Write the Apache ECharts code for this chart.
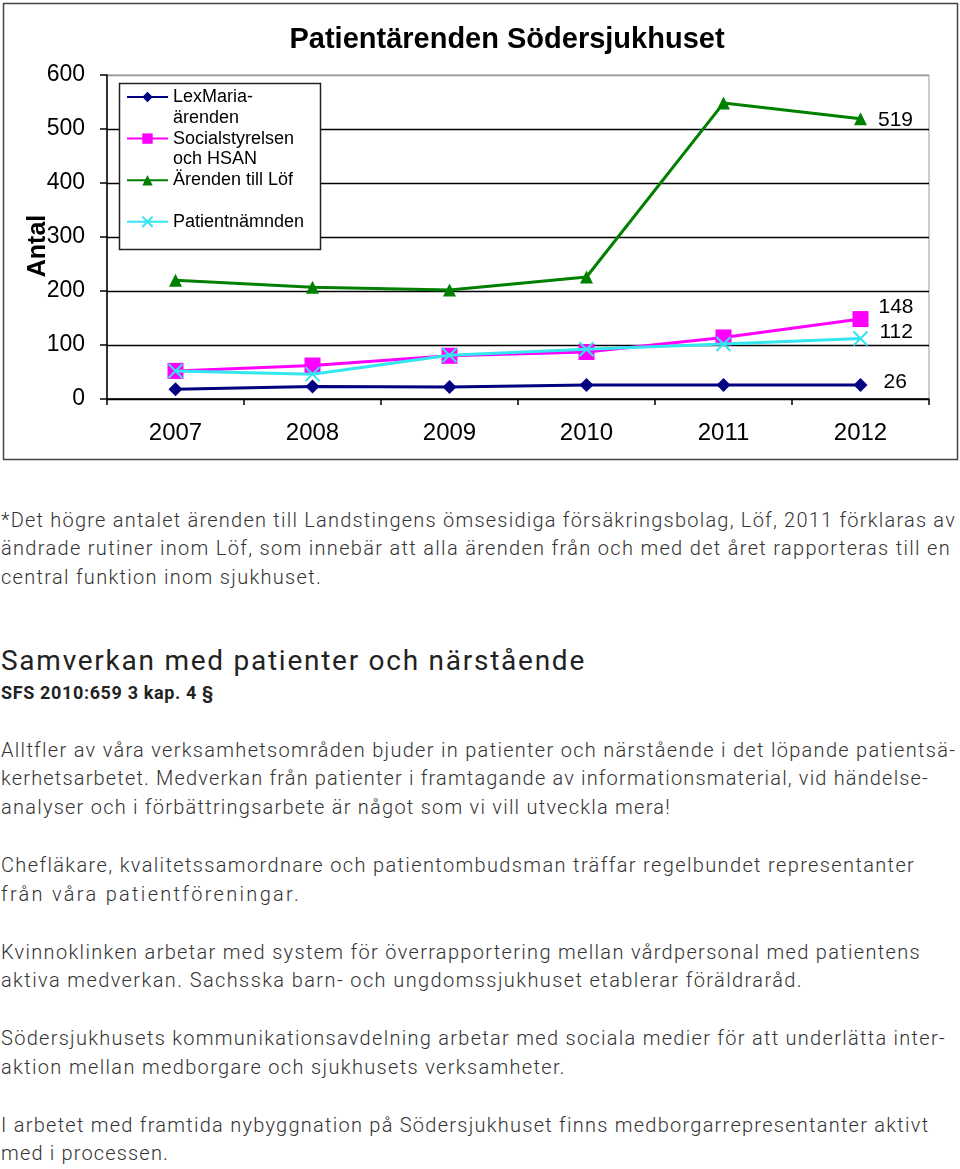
<!DOCTYPE html>
<html>
<head>
<meta charset="utf-8">
<script src="https://cdn.jsdelivr.net/npm/echarts@6/dist/echarts.min.js"></script>
<style>
  html, body { margin: 0; padding: 0; background: #fff; }
  body { width: 960px; height: 1169px; position: relative; overflow: hidden; }
  #chart { position: absolute; left: 0; top: 0; width: 960px; height: 463px; }
  .txt { position: absolute; left: 1px; font-family: "Roboto", "Open Sans", sans-serif; color: #333; white-space: nowrap; }
  .body { font-size: 20px; font-weight: 300; line-height: 28.85px; }
  .body span { display: inline-block; }
  .gap { height: 28.85px; }
  .head { font-size: 28px; font-weight: 400; line-height: 34px; color: #222; }
  .sfs { font-size: 18px; font-weight: 700; line-height: 22px; color: #222; }
</style>
</head>
<body>
<div id="chart"></div>

<div class="txt body" style="top:505.6px">
  <span class="fit" data-w="955">*Det högre antalet ärenden till Landstingens ömsesidiga försäkringsbolag, Löf, 2011 förklaras av</span><br>
  <span class="fit" data-w="950">ändrade rutiner inom Löf, som innebär att alla ärenden från och med det året rapporteras till en</span><br>
  <span class="fit" data-w="321">central funktion inom sjukhuset.</span>
</div>
<div class="txt head" style="top:644px"><span class="fit" data-w="585" style="display:inline-block">Samverkan med patienter och närstående</span></div>
<div class="txt sfs" style="top:682px"><span class="fit" data-w="213" style="display:inline-block">SFS 2010:659 3 kap. 4 §</span></div>
<div class="txt body" style="top:735.6px">
  <span class="fit" data-w="955">Alltfler av våra verksamhetsområden bjuder in patienter och närstående i det löpande patientsä-</span><br>
  <span class="fit" data-w="928">kerhetsarbetet. Medverkan från patienter i framtagande av informationsmaterial, vid händelse-</span><br>
  <span class="fit" data-w="670">analyser och i förbättringsarbete är något som vi vill utveckla mera!</span>
  <div class="gap"></div>
  <span class="fit" data-w="914">Chefläkare, kvalitetssamordnare och patientombudsman träffar regelbundet representanter</span><br>
  <span class="fit" data-w="300">från våra patientföreningar.</span>
  <div class="gap"></div>
  <span class="fit" data-w="920">Kvinnoklinken arbetar med system för överrapportering mellan vårdpersonal med patientens</span><br>
  <span class="fit" data-w="802">aktiva medverkan. Sachsska barn- och ungdomssjukhuset etablerar föräldraråd.</span>
  <div class="gap"></div>
  <span class="fit" data-w="945">Södersjukhusets kommunikationsavdelning arbetar med sociala medier för att underlätta inter-</span><br>
  <span class="fit" data-w="565">aktion mellan medborgare och sjukhusets verksamheter.</span>
  <div class="gap"></div>
  <span class="fit" data-w="928">I arbetet med framtida nybyggnation på Södersjukhuset finns medborgarrepresentanter aktivt</span><br>
  <span class="fit" data-w="168">med i processen.</span>
</div>

<script>
// ---- data ----
const years = ['2007', '2008', '2009', '2010', '2011', '2012'];
const lexMaria = [18, 23, 22, 26, 26, 26];
const socialstyrelsen = [52, 62, 80, 87, 114, 148];
const arendenLof = [220, 207, 202, 226, 548, 519];
const patientnamnden = [52, 46, 81, 92, 102, 112];
const yTickMin = 0, yTickMax = 600, yTickStep = 100;

const seriesNames = ['LexMaria-ärenden', 'Socialstyrelsen och HSAN', 'Ärenden till Löf', 'Patientnämnden'];
const legendText = {
  'LexMaria-ärenden': ' \nLexMaria-\närenden',
  'Socialstyrelsen och HSAN': ' \nSocialstyrelsen\noch HSAN',
  'Ärenden till Löf': ' \nÄrenden till Löf\n ',
  'Patientnämnden': ' \nPatientnämnden\n '
};

// ---- fit text lines ----
document.querySelectorAll('.fit').forEach(function (el) {
  el.style.letterSpacing = '0px';
  const w = el.getBoundingClientRect().width;
  const target = parseFloat(el.dataset.w);
  const n = el.textContent.length;
  el.style.letterSpacing = ((target - w) / n) + 'px';
});

const FONT = '"Liberation Sans", Arial, sans-serif';
const L = 20.8;

function withLastLabel(values, labelOpt) {
  return values.map(function (v, i) {
    if (i === values.length - 1) {
      return { value: v, label: Object.assign({ show: true, position: 'right', fontSize: 21, fontFamily: FONT, color: '#000' }, labelOpt) };
    }
    return v;
  });
}

const chart = echarts.init(document.getElementById('chart'), null, { renderer: 'canvas' });

const option = {
  animation: false,
  backgroundColor: '#fff',
  title: {
    text: 'Patientärenden Södersjukhuset',
    left: 507, top: 24, padding: 0,
    textAlign: 'center',
    textStyle: { fontFamily: FONT, fontSize: 29, fontWeight: 'bold', color: '#000', lineHeight: 31 }
  },
  grid: {
    left: 107, top: 75, width: 822, height: 324,
    show: true, borderColor: '#999', borderWidth: 1, backgroundColor: 'transparent',
    containLabel: false, outerBoundsMode: 'none'
  },
  legend: {
    left: 126, top: 97 - 1.5 * L,
    orient: 'vertical', padding: 0, itemGap: -L,
    itemWidth: 41, itemHeight: 13,
    selectedMode: false,
    formatter: function (name) { return legendText[name]; },
    textStyle: { fontFamily: FONT, fontSize: 18, color: '#000', lineHeight: L },
    data: seriesNames
  },
  graphic: [
    { type: 'rect', z: 3, shape: { x: 119.5, y: 83.5, width: 201, height: 166 },
      style: { fill: '#fff', stroke: '#222', lineWidth: 1.5 } },
    { type: 'rect', z: 0, silent: true, shape: { x: 3.5, y: 3.5, width: 954, height: 456 },
      style: { fill: 'none', stroke: '#444', lineWidth: 1.5 } }
  ],
  xAxis: {
    type: 'category',
    data: years,
    boundaryGap: true,
    axisLine: { show: true, lineStyle: { color: '#000', width: 1.5 } },
    axisTick: { show: true, inside: false, length: 6, lineStyle: { color: '#000', width: 1.5 } },
    axisLabel: { fontFamily: FONT, fontSize: 24, color: '#000', margin: 22 },
    splitLine: { show: false }
  },
  yAxis: {
    type: 'value',
    min: yTickMin, max: yTickMax, interval: yTickStep,
    name: 'Antal',
    nameLocation: 'middle',
    nameGap: 56,
    nameRotate: 90,
    nameMoveOverlap: false,
    nameTextStyle: { fontFamily: FONT, fontSize: 25, fontWeight: 'bold', color: '#000', padding: [0, 18, 0, 0] },
    axisLine: { show: true, lineStyle: { color: '#000', width: 1.5 } },
    axisTick: { show: true, inside: false, length: 7, lineStyle: { color: '#000', width: 1.5 } },
    axisLabel: { fontFamily: FONT, fontSize: 23, color: '#000', margin: 22 },
    splitLine: { show: true, lineStyle: { color: ['#000', '#000', '#000', '#000', '#000', '#000', '#999'], width: 1.3 } }
  },
  series: [
    {
      name: seriesNames[0], type: 'line', data: withLastLabel(lexMaria, { distance: 16, offset: [0, -3] }),
      symbol: 'diamond', symbolSize: 14, z: 2,
      lineStyle: { color: '#000080', width: 3 },
      itemStyle: { color: '#000080', borderWidth: 0 }
    },
    {
      name: seriesNames[1], type: 'line', data: withLastLabel(socialstyrelsen, { distance: 10, offset: [0, -12] }),
      symbol: 'rect', symbolSize: 16, z: 3,
      lineStyle: { color: '#FF00FF', width: 3 },
      itemStyle: { color: '#FF00FF', borderWidth: 0 }
    },
    {
      name: seriesNames[2], type: 'line', data: withLastLabel(arendenLof, { distance: 11, offset: [0, 1] }),
      symbol: 'triangle', symbolSize: 13, z: 4,
      lineStyle: { color: '#008000', width: 3 },
      itemStyle: { color: '#008000', borderWidth: 0 }
    },
    {
      name: seriesNames[3], type: 'line', data: withLastLabel(patientnamnden, { distance: 11, offset: [0, -6] }),
      symbol: 'path://M0,0L10,10M10,0L0,10', symbolSize: 14, z: 5,
      lineStyle: { color: '#33E6F0', width: 3 },
      itemStyle: { color: '#33E6F0', borderColor: '#33E6F0', borderWidth: 2 }
    }
  ]
};

chart.setOption(option);
</script>
</body>
</html>
